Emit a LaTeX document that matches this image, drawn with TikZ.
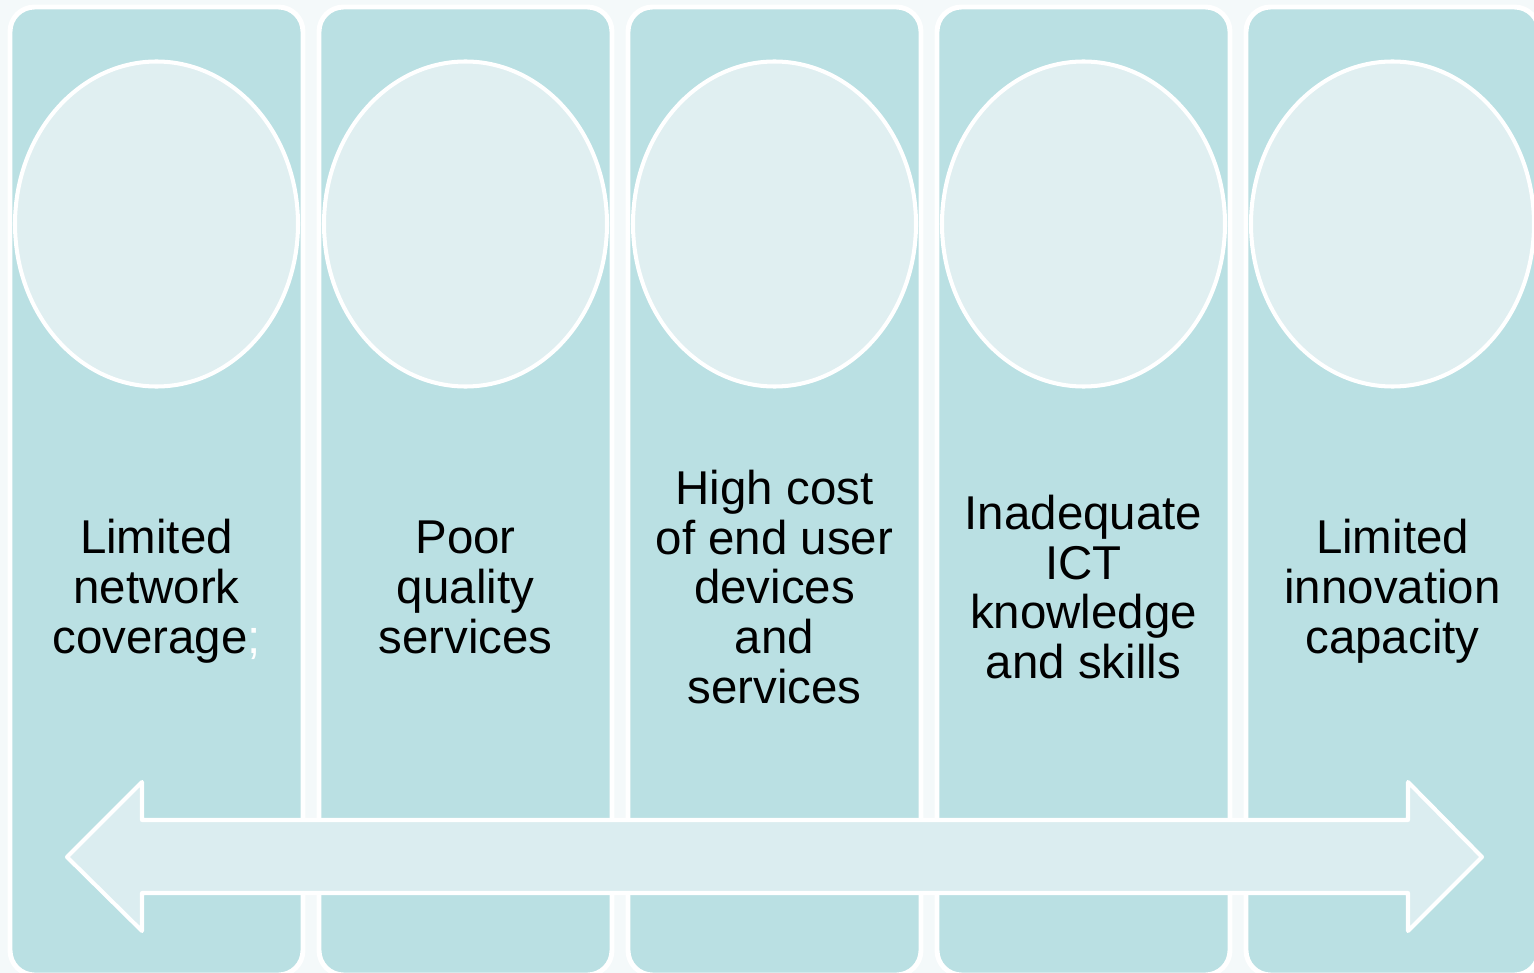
\documentclass[tikz,border=0pt]{standalone}
\usepackage{fontspec}
\setmainfont{Liberation Sans}
\usetikzlibrary{shapes.geometric}

\definecolor{pagebg}{HTML}{F4F9FA}
\definecolor{colfill}{HTML}{BAE0E3}
\definecolor{ovalfill}{HTML}{E0EFF1}
\definecolor{barfill}{HTML}{DBEDF0}

\begin{document}
\begin{tikzpicture}[
    column/.style={
        draw=white, line width=2.8pt, fill=colfill, rounded corners=14pt,
        minimum width=5.86cm, minimum height=19.36cm, inner sep=0pt
    },
    oval/.style={
        ellipse, draw=white, line width=2.3pt, fill=ovalfill,
        minimum width=5.66cm, minimum height=6.5cm, inner sep=0pt
    },
    issue/.style={font=\fontsize{27}{28.4}\selectfont, align=center, text=black},
    bar/.style={draw=white, line width=2.3pt, fill=barfill, line join=round}
]

\useasboundingbox (0,0) rectangle (30.68,-19.46);
\clip (0,0) rectangle (30.68,-19.46);
\fill[pagebg] (0,0) rectangle (30.68,-19.46);

% Columns
\node[column] (c1) at (3.13,-9.82)  {};
\node[column] (c2) at (9.31,-9.82)  {};
\node[column] (c3) at (15.49,-9.82) {};
\node[column] (c4) at (21.67,-9.82) {};
\node[column] (c5) at (27.85,-9.82) {};

% Ovals at the top of each column
\node[oval] (o1) at (3.13,-4.48)  {};
\node[oval] (o2) at (9.31,-4.48)  {};
\node[oval] (o3) at (15.49,-4.48) {};
\node[oval] (o4) at (21.67,-4.48) {};
\node[oval] (o5) at (27.85,-4.48) {};

% Labels
\node[issue] (t1) at (3.13,-11.82)  {Limited\\network\\coverage\textcolor{white}{;}};
\node[issue] (t2) at (9.31,-11.74)  {Poor\\quality\\services};
\node[issue] (t3) at (15.49,-11.74) {High cost\\of end user\\devices\\and\\services};
\node[issue] (t4) at (21.67,-11.74) {Inadequate\\ICT\\knowledge\\and skills};
\node[issue] (t5) at (27.85,-11.82) {Limited\\innovation\\capacity};

% Double arrow across the bottom
\draw[bar] (1.34,-17.14) -- (2.84,-15.64) -- (2.84,-16.40) -- (28.16,-16.40)
    -- (28.16,-15.64) -- (29.64,-17.14) -- (28.16,-18.62) -- (28.16,-17.86)
    -- (2.84,-17.86) -- (2.84,-18.62) -- cycle;

\end{tikzpicture}
\end{document}
